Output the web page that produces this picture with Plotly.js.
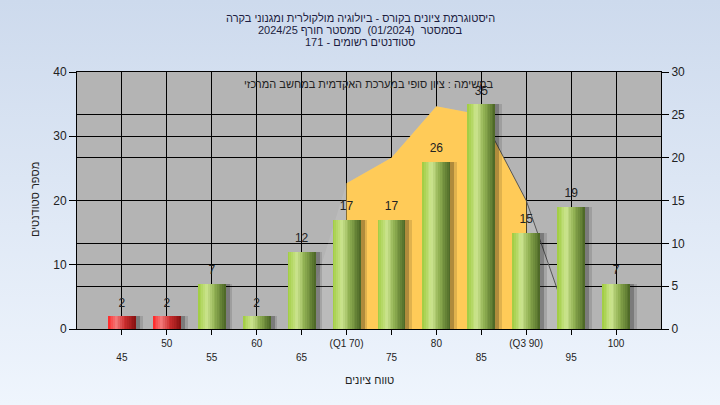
<!DOCTYPE html>
<html><head><meta charset="utf-8">
<script src="https://cdn.plot.ly/plotly-3.0.1.min.js"></script>
<style>
html,body{margin:0;padding:0;width:720px;height:405px;overflow:hidden;background:linear-gradient(#cddaed,#eff5fd);}
#chart{width:720px;height:405px;}
</style>
</head><body><div id="chart"></div>
<script>
// ---- data ----
const categories = [45, 50, 55, 60, 65, 70, 75, 80, 85, 90, 95, 100];
const tickLabels = ['45', '50', '55', '60', '65', '(Q1 70)', '75', '80', '85', '(Q3 90)', '95', '100'];
const students = [2, 2, 7, 2, 12, 17, 17, 26, 35, 15, 19, 7];
const curveX = [65, 70, 75, 80, 85, 90, 95];
const curveY = [0, 17, 20, 26, 25, 15, 0];
const q1 = 70, q3 = 90;
const passGrade = 55;
const titleLines = [
  'היסטוגרמת ציונים בקורס - ביולוגיה מולקולרית ומגנוני בקרה',
  'בסמסטר  (01/2024)  סמסטר חורף 2024/25',
  'סטודנטים רשומים - 171'
];
const noteText = 'במשימה : ציון סופי במערכת האקדמית במחשב המרכזי';
const yTitle = 'מספר סטודנטים';
const xTitle = 'טווח ציונים';

// ---- styling helpers ----
const FONT = 'Arial, "Liberation Sans", "DejaVu Sans", sans-serif';
function hex(c){return [parseInt(c.slice(1,3),16),parseInt(c.slice(3,5),16),parseInt(c.slice(5,7),16)];}
function grad(stops, t){
  for (let k=0;k<stops.length-1;k++){
    const [t0,c0]=stops[k],[t1,c1]=stops[k+1];
    if (t>=t0 && t<=t1){
      const f=(t-t0)/(t1-t0), a=hex(c0), b=hex(c1);
      return 'rgb('+a.map((v,j)=>Math.round(v+(b[j]-v)*f)).join(',')+')';
    }
  }
  return stops[stops.length-1][1];
}
const greenStops = [[0,'#9fcb3e'],[0.32,'#cde590'],[0.6,'#90b052'],[1,'#4a6424']];
const redStops   = [[0,'#ff2424'],[0.3,'#f27c7c'],[0.6,'#cc2e2e'],[1,'#861010']];

const W = 3.1, N = 16, w = W / N;
const traces = [];

// area (right axis, primary y)
traces.push({type:'scatter', x:curveX, y:curveY, yaxis:'y', mode:'lines', fill:'tozeroy',
  fillcolor:'rgba(255,255,255,0.10)', line:{width:0}, hoverinfo:'skip', showlegend:false});
const inX = [], inY = [];
curveX.forEach((x,i)=>{ if (x>=q1 && x<=q3){ inX.push(x); inY.push(curveY[i]); } });
traces.push({type:'scatter', x:inX, y:inY, yaxis:'y', mode:'lines', fill:'tozeroy',
  fillcolor:'#ffcb58', line:{width:0}, hoverinfo:'skip', showlegend:false});
const edgeX = [], edgeY = [];
curveX.forEach((x,i)=>{ if (x>=85){ edgeX.push(x); edgeY.push(curveY[i]); } });
traces.push({type:'scatter', x:edgeX, y:edgeY, yaxis:'y', mode:'lines',
  line:{width:1, color:'#555'}, hoverinfo:'skip', showlegend:false});

// shadows
[[0.75,'rgba(0,0,0,0.12)'],[0.45,'rgba(0,0,0,0.22)']].forEach(([o,c])=>{
  traces.push({type:'bar', x:categories, y:students, yaxis:'y2', width:W, offset:-W/2+o,
    marker:{color:c, line:{width:0}}, hoverinfo:'skip', showlegend:false});
});
// gradient bars as stripes
for (let i=0;i<N;i++){
  const t = (i+0.5)/N;
  traces.push({type:'bar', x:categories, y:students, yaxis:'y2', width:w*1.02, offset:-W/2+i*w,
    marker:{color:categories.map(c=> c<passGrade ? grad(redStops,t) : grad(greenStops,t)), line:{width:0}},
    hoverinfo:'skip', showlegend:false});
}
// value labels (on the second x axis so that its staggered tick labels get drawn)
traces.push({type:'scatter', x:categories, y:students, xaxis:'x2', yaxis:'y2', mode:'markers+text',
  marker:{size:9, color:'rgba(0,0,0,0)'},
  text:students.map(String), textposition:'top center', cliponaxis:false,
  textfont:{family:FONT, size:12, color:'#222'}, hoverinfo:'skip', showlegend:false});

const evenIdx = categories.map((c,i)=>i).filter(i=>i%2===1);
const oddIdx = categories.map((c,i)=>i).filter(i=>i%2===0);

const xBase = {range:[40,105], showgrid:true, gridcolor:'#000', gridwidth:1, ticks:'outside',
  ticklen:5, tickcolor:'#000', zeroline:false, tickfont:{family:FONT, size:10, color:'#222'}};

const titleY = [18, 30.5, 42];
const annotations = titleLines.map((t,i)=>({xref:'paper', yref:'paper', x:(360-77)/584,
  y:(329-titleY[i])/257, text:t, showarrow:false, xanchor:'center', yanchor:'middle',
  font:{family:FONT, size:11, color:'#1c1c40'}}));
annotations.push({xref:'paper', yref:'paper', x:0.5, y:(329-84)/257, text:noteText, showarrow:false,
  xanchor:'center', yanchor:'middle', font:{family:FONT, size:11, color:'#222'}});
annotations.push({xref:'paper', yref:'paper', x:0.5, y:(329-380)/257, text:xTitle, showarrow:false,
  xanchor:'center', yanchor:'middle', font:{family:FONT, size:11, color:'#222'}});
annotations.push({xref:'paper', yref:'paper', x:(35-77)/584, y:(329-200)/257, text:yTitle, showarrow:false,
  textangle:-90, xanchor:'center', yanchor:'middle', font:{family:FONT, size:11, color:'#222'}});

const layout = {
  width:720, height:405,
  margin:{l:77, r:59, t:72, b:76, pad:0},
  paper_bgcolor:'rgba(0,0,0,0)', plot_bgcolor:'#b4b4b4',
  barmode:'overlay', bargap:0,
  showlegend:false,
  xaxis: Object.assign({}, xBase, {tickmode:'array', tickvals:evenIdx.map(i=>categories[i]),
    ticktext:evenIdx.map(i=>tickLabels[i]), showline:true, linecolor:'#000', linewidth:1, mirror:true}),
  xaxis2: Object.assign({}, xBase, {overlaying:'x', anchor:'y', side:'bottom', tickmode:'array',
    tickvals:oddIdx.map(i=>categories[i]), ticktext:oddIdx.map(i=>tickLabels[i]), ticklabelstandoff:14}),
  yaxis: {range:[0,30], side:'right', dtick:5, tick0:0, showgrid:true, gridcolor:'#000', gridwidth:1,
    ticks:'outside', ticklen:7, tickcolor:'#000', zeroline:false, showline:true, linecolor:'#000',
    tickfont:{family:FONT, size:12, color:'#222'}},
  yaxis2: {range:[0,40], side:'left', overlaying:'y', anchor:'x', dtick:10, tick0:0, showgrid:true, gridcolor:'#000',
    gridwidth:1, ticks:'outside', ticklen:7, tickcolor:'#000', zeroline:false, showline:true, linecolor:'#000',
    tickfont:{family:FONT, size:12, color:'#222'}},
  annotations: annotations
};

Plotly.newPlot('chart', traces, layout, {staticPlot:true});
</script>
</body></html>
